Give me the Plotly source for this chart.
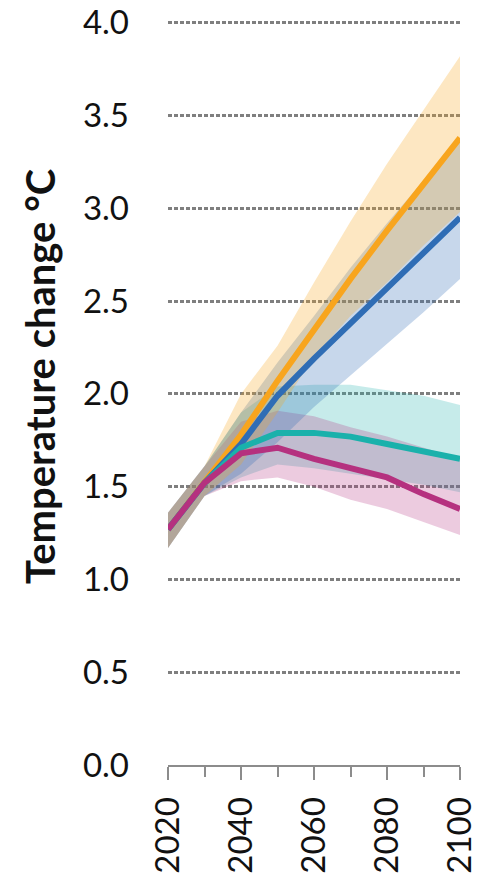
import plotly.graph_objects as go

years = [2020, 2030, 2040, 2050, 2060, 2070, 2080, 2090, 2100]

orange_mid = [1.27, 1.52, 1.78, 2.07, 2.35, 2.62, 2.88, 3.13, 3.38]
orange_hi = [1.36, 1.61, 2.00, 2.26, 2.60, 2.93, 3.24, 3.53, 3.82]
orange_lo = [1.17, 1.45, 1.62, 1.90, 2.20, 2.42, 2.60, 2.80, 2.98]

blue_mid = [1.27, 1.52, 1.73, 1.99, 2.19, 2.38, 2.57, 2.76, 2.95]
blue_hi = [1.36, 1.61, 1.90, 2.17, 2.42, 2.68, 2.92, 3.15, 3.37]
blue_lo = [1.17, 1.45, 1.57, 1.74, 1.93, 2.10, 2.27, 2.44, 2.62]

teal_mid = [1.27, 1.52, 1.71, 1.79, 1.79, 1.77, 1.73, 1.69, 1.65]
teal_hi = [1.36, 1.61, 1.90, 2.04, 2.05, 2.05, 2.02, 1.99, 1.94]
teal_lo = [1.17, 1.45, 1.55, 1.62, 1.60, 1.57, 1.54, 1.51, 1.47]

mag_mid = [1.27, 1.52, 1.68, 1.71, 1.65, 1.60, 1.55, 1.46, 1.38]
mag_hi = [1.36, 1.61, 1.85, 1.91, 1.88, 1.82, 1.77, 1.71, 1.65]
mag_lo = [1.17, 1.45, 1.53, 1.55, 1.50, 1.43, 1.38, 1.31, 1.24]

y_ticks = [0.0, 0.5, 1.0, 1.5, 2.0, 2.5, 3.0, 3.5, 4.0]
x_ticks = [2020, 2040, 2060, 2080, 2100]
y_title = "Temperature change °C"

series = [
    (orange_mid, orange_hi, orange_lo, "#F8A51E", "rgba(248,165,30,0.27)"),
    (blue_mid, blue_hi, blue_lo, "#2F6DB5", "rgba(47,109,181,0.27)"),
    (teal_mid, teal_hi, teal_lo, "#1AB1AB", "rgba(26,177,171,0.25)"),
    (mag_mid, mag_hi, mag_lo, "#B5317F", "rgba(181,49,127,0.25)"),
]

fig = go.Figure()
for mid, hi, lo, col, fcol in [series[2], series[3], series[1], series[0]]:
    fig.add_trace(go.Scatter(
        x=years + years[::-1], y=hi + lo[::-1], fill="toself",
        fillcolor=fcol, line=dict(width=0), mode="lines",
        hoverinfo="skip", showlegend=False))
for mid, hi, lo, col, fcol in series:
    fig.add_trace(go.Scatter(
        x=years, y=mid, mode="lines",
        line=dict(color=col, width=6), showlegend=False, cliponaxis=False))

# page body has an 8px margin: figure origin sits at (8, 8) in the window
W, H = 472, 867
L, R, T, B = 160, 20, 13, 110
plot_w = W - L - R
plot_h = H - T - B

fig.update_layout(
    width=W, height=H,
    margin=dict(l=L, r=R, t=T, b=B),
    paper_bgcolor="white", plot_bgcolor="white",
    font=dict(family="Lato", color="#111111"),
    xaxis=dict(
        range=[2020, 2100], tickvals=x_ticks, tickangle=-90,
        tickfont=dict(size=33, family="Lato"),
        showgrid=False, zeroline=False, automargin=False,
        showline=True, linecolor="#8c8c8c", linewidth=2,
        ticks="outside", ticklen=13, tickwidth=2, tickcolor="#8c8c8c",
        minor=dict(dtick=10, tick0=2020, ticks="outside", ticklen=10,
                   tickwidth=2, tickcolor="#8c8c8c", showgrid=False),
        ticklabelstandoff=4, ticklabeloverflow="allow",
    ),
    yaxis=dict(
        range=[0, 4.01], tickvals=y_ticks, tickformat=".1f",
        tickfont=dict(size=33, family="Lato"),
        showgrid=True, gridcolor="#7f7f7f", gridwidth=3, griddash="4px,2px",
        zeroline=False, showline=False, ticks="", automargin=False,
        ticklabelstandoff=38, ticklabeloverflow="allow",
    ),
    annotations=[dict(
        text=y_title, xref="paper", yref="paper",
        x=(32 - L) / plot_w, y=(H - B - 369) / plot_h,
        textangle=-90, showarrow=False,
        font=dict(size=40, family="Lato", color="#111111", weight="bold"),
        xanchor="center", yanchor="middle")],
)

fig.write_html("out.html")
